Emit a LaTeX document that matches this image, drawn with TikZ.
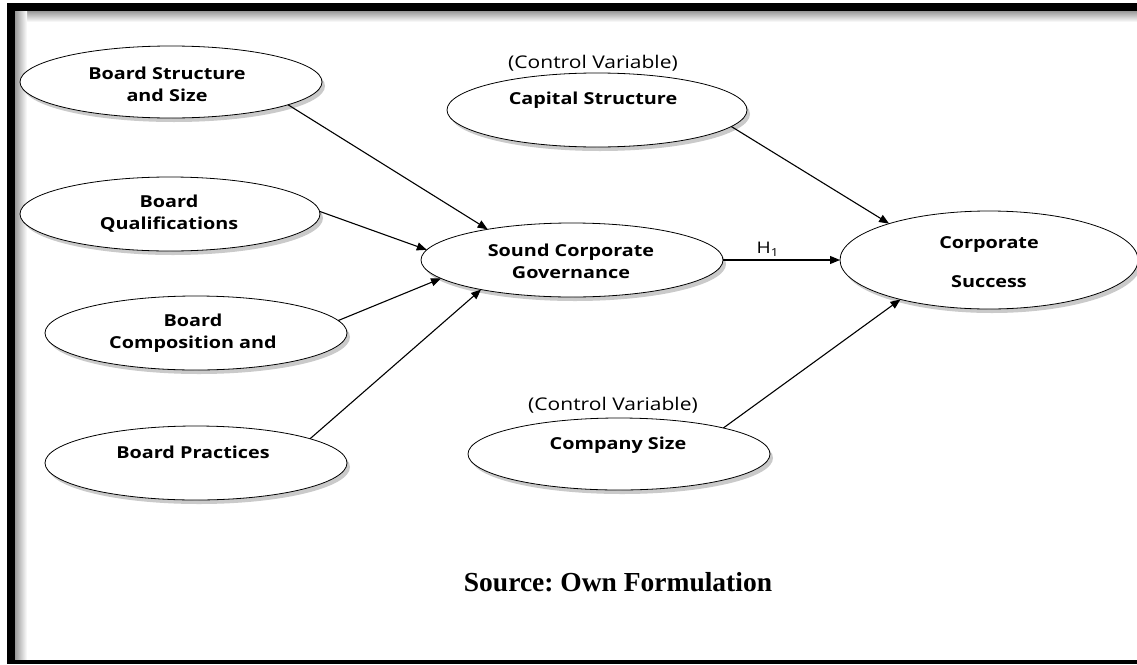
\documentclass[tikz,border=0pt]{standalone}
\usepackage{fontspec}
\setmainfont{Open Sans}
\newfontfamily\lblfont[FakeStretch=1.2]{Open Sans}
\newfontfamily\srcfont{Liberation Serif}
\usetikzlibrary{shapes.geometric,shadows,arrows.meta}
\frenchspacing
\begin{document}
\begin{tikzpicture}[x=1pt,y=-1pt,
  oval/.style={ellipse,draw=black,line width=0.8pt,fill=white,inner sep=0pt,outer sep=0pt,
    drop shadow={shadow xshift=3pt,shadow yshift=-4pt,opacity=0.35,fill=black!60}},
  lbl/.style={font=\lblfont\fontsize{16.5}{19}\selectfont\bfseries,align=center,inner sep=0pt},
  ctrl/.style={font=\lblfont\fontsize{17.5}{20}\selectfont,inner sep=0pt},
  conn/.style={line width=1.1pt,-{Triangle[length=10pt,width=8pt]}}]
\useasboundingbox (0,0) rectangle (1137,664);
% frame
\shade[top color=black!40,bottom color=white] (15,11) rectangle (1137,22);
\shade[left color=black!40,right color=white] (15,11) rectangle (27,660);
\fill[black] (7,3) rectangle (1137,11);
\fill[black] (7,3) rectangle (15,664);
\fill[black] (7,660) rectangle (1137,664);
% ellipses
\node[oval,minimum width=302pt,minimum height=72pt] (bss) at (171,82) {};
\node[oval,minimum width=300pt,minimum height=74pt] (bq) at (170,214) {};
\node[oval,minimum width=302pt,minimum height=74pt] (bca) at (196,333) {};
\node[oval,minimum width=302pt,minimum height=74pt] (bp) at (196,463) {};
\node[oval,minimum width=300pt,minimum height=74pt] (cap) at (597,110) {};
\node[oval,minimum width=302pt,minimum height=74pt] (scg) at (572,260) {};
\node[oval,minimum width=298pt,minimum height=98pt] (cs) at (989,260) {};
\node[oval,minimum width=302pt,minimum height=72pt] (csz) at (619,454) {};
% texts
\node[lbl] (t1) at (167,84) {Board Structure\\[3pt]and Size};
\node[lbl] (t2) at (169,214) {Board\\[3pt]Qualifications};
\node[lbl] (t3) at (193,333) {Board\\[3pt]Composition and};
\node[lbl] (t4) at (193,452) {Board Practices};
\node[lbl] (t5) at (593,100) {Capital Structure};
\node[lbl] (t6) at (571,261) {Sound Corporate\\[3pt]Governance};
\node[lbl] (t7) at (989,245) {Corporate};
\node[lbl] (t8) at (989,282) {Success};
\node[lbl] (t9) at (618,445) {Company Size};
\node[ctrl] (c1) at (593,63) {(Control Variable)};
\node[ctrl] (c2) at (613,405) {(Control Variable)};
\node[font=\fontsize{27.5}{32}\selectfont\srcfont\bfseries,inner sep=0pt] (src) at (618,582) {Source: Own Formulation};
% connectors
\draw[conn] (bss.-11.6) -- (scg.160.2);
\draw[conn] (bq.1.5) -- (scg.176);
\draw[conn] (bca.5.5) -- (scg.188);
\draw[conn] (bp.12.8) -- (scg.198.6);
\draw[conn] (cap.-7) -- (cs.160.6);
\draw[conn] (csz.14.7) -- (cs.204);
\draw[conn] (scg.east) -- node[above,font=\lblfont\fontsize{16}{18}\selectfont,pos=0.38,inner sep=3pt] {H\raisebox{-3pt}{\fontsize{11}{12}\selectfont 1}} (cs.west);
\end{tikzpicture}
\end{document}
